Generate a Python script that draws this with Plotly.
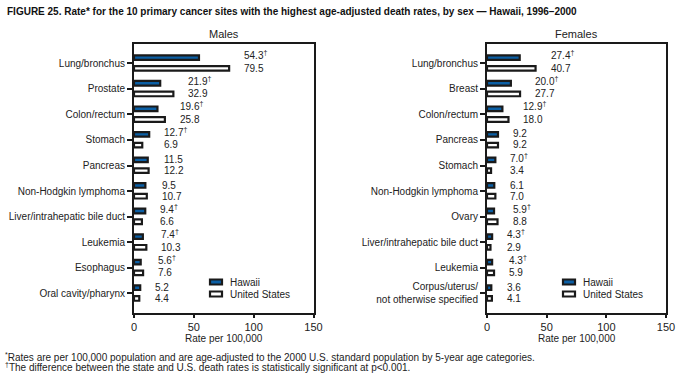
import plotly.graph_objects as go

male_sites = ["Lung/bronchus", "Prostate", "Colon/rectum", "Stomach", "Pancreas",
              "Non-Hodgkin lymphoma", "Liver/intrahepatic bile duct", "Leukemia",
              "Esophagus", "Oral cavity/pharynx"]
male_hawaii = [54.3, 21.9, 19.6, 12.7, 11.5, 9.5, 9.4, 7.4, 5.6, 5.2]
male_us = [79.5, 32.9, 25.8, 6.9, 12.2, 10.7, 6.6, 10.3, 7.6, 4.4]
male_sig = [True, True, True, True, False, False, True, True, True, False]

female_sites = ["Lung/bronchus", "Breast", "Colon/rectum", "Pancreas", "Stomach",
                "Non-Hodgkin lymphoma", "Ovary", "Liver/intrahepatic bile duct",
                "Leukemia", "Corpus/uterus/<br>not otherwise specified"]
female_hawaii = [27.4, 20.0, 12.9, 9.2, 7.0, 6.1, 5.9, 4.3, 4.3, 3.6]
female_us = [40.7, 27.7, 18.0, 9.2, 3.4, 7.0, 8.8, 2.9, 5.9, 4.1]
female_sig = [True, True, True, False, True, False, True, True, True, False]

x_ticks = [0, 50, 100, 150]
series_names = ["Hawaii", "United States"]

BLUE = "#0b5fa5"
EDGE = "#1a1a1a"
TXT = "#222"
FONT = "Liberation Sans, Arial, sans-serif"
NARROW = "Liberation Sans Narrow, Arial Narrow, Liberation Sans, sans-serif"
W, H = 687, 381

fig = go.Figure()

panels = [
    ("x", "y", male_sites, male_hawaii, male_us, male_sig, 209, (134 + 313.5) / 2, "Males"),
    ("x2", "y2", female_sites, female_hawaii, female_us, female_sig, 562, (487 + 666) / 2, "Females"),
]

annotations = []
shapes = []
for xa, ya, sites, hw, us, sig, legx, cx, ttl in panels:
    fig.add_trace(go.Bar(
        y=sites, x=hw, orientation="h", name=series_names[0], xaxis=xa, yaxis=ya,
        width=0.18, offset=-0.31,
        marker=dict(color=BLUE, line=dict(color=EDGE, width=2.2)),
        hoverinfo="skip"))
    fig.add_trace(go.Bar(
        y=sites, x=us, orientation="h", name=series_names[1], xaxis=xa, yaxis=ya,
        width=0.18, offset=0.11,
        marker=dict(color="white", line=dict(color=EDGE, width=2.2)),
        hoverinfo="skip"))
    for s, h, u, g in zip(sites, hw, us, sig):
        m = max(h, u)
        htxt = f"{h:.1f}" + ("<sup>†</sup>" if g else "")
        annotations.append(dict(x=m, y=s, xref=xa, yref=ya, text=htxt,
                                showarrow=False, xanchor="left", yanchor="middle",
                                xshift=13, yshift=8 if g else 6,
                                font=dict(size=10, color=TXT, family=FONT)))
        annotations.append(dict(x=m, y=s, xref=xa, yref=ya, text=f"{u:.1f}",
                                showarrow=False, xanchor="left", yanchor="middle",
                                xshift=13, yshift=-5,
                                font=dict(size=10, color=TXT, family=FONT)))
    # legend (manual)
    for i, (nm, col) in enumerate(zip(series_names, [BLUE, "white"])):
        yc = 282 + 12 * i
        shapes.append(dict(type="rect", xref="paper", yref="paper",
                           x0=(legx + 1) / W, x1=(legx + 13) / W,
                           y0=1 - (yc + 2.5) / H, y1=1 - (yc - 2.5) / H,
                           fillcolor=col, line=dict(color=EDGE, width=2.2)))
        annotations.append(dict(x=(legx + 19) / W, y=1 - yc / H, xref="paper", yref="paper",
                                xanchor="left", yanchor="middle", showarrow=False, text=nm,
                                font=dict(size=10, color=TXT, family=FONT)))
    annotations.append(dict(x=cx / W, y=1 - 34 / H, xref="paper", yref="paper",
                            xanchor="center", yanchor="middle", showarrow=False, text=ttl,
                            font=dict(size=11, color=TXT, family=FONT)))
    annotations.append(dict(x=cx / W, y=1 - 338 / H, xref="paper", yref="paper",
                            xanchor="center", yanchor="middle", showarrow=False,
                            text="Rate per 100,000",
                            font=dict(size=10, color=TXT, family=FONT)))

ydom = [1 - 313 / H, 1 - 44 / H]
common_x = dict(range=[0, 150], tickvals=x_ticks, showline=True, linecolor=EDGE,
                linewidth=2, mirror=True, ticks="outside", ticklen=3, tickwidth=2,
                tickcolor=EDGE, showgrid=False, zeroline=False, automargin=False,
                tickfont=dict(size=11, color=TXT, family=FONT))
common_y = dict(type="category", range=[9.77, -0.755], showline=True,
                linecolor=EDGE, linewidth=2, mirror=True, ticks="outside",
                ticklen=5, tickwidth=2, tickcolor=EDGE, showgrid=False, automargin=False,
                tickfont=dict(size=10, color=TXT, family=FONT), domain=ydom)

fig.update_layout(
    width=W, height=H, margin=dict(l=0, r=0, t=0, b=0, autoexpand=False),
    paper_bgcolor="white", plot_bgcolor="white", barmode="overlay",
    font=dict(family=FONT, color=TXT, size=10),
    xaxis=dict(domain=[134 / W, 313.5 / W], anchor="y", **common_x),
    yaxis=dict(anchor="x", categoryarray=male_sites, **common_y),
    xaxis2=dict(domain=[487 / W, 666 / W], anchor="y2", **common_x),
    yaxis2=dict(anchor="x2", categoryarray=female_sites, **common_y),
    showlegend=False,
)

annotations += [
    dict(x=5 / W, y=1 - 12 / H, xref="paper", yref="paper", xanchor="left",
         yanchor="middle", showarrow=False,
         text="<b>FIGURE 25. Rate* for the 10 primary cancer sites with the highest age-adjusted death rates, by sex — Hawaii, 1996–2000</b>",
         font=dict(size=10, color="#111", family=NARROW)),
    dict(x=3 / W, y=1 - 357 / H, xref="paper", yref="paper", xanchor="left",
         yanchor="middle", showarrow=False,
         text="<sup>*</sup>Rates are per 100,000 population and are age-adjusted to the 2000 U.S. standard population by 5-year age categories.",
         font=dict(size=10, color=TXT, family=FONT)),
    dict(x=3 / W, y=1 - 367 / H, xref="paper", yref="paper", xanchor="left",
         yanchor="middle", showarrow=False,
         text="<sup>†</sup>The difference between the state and U.S. death rates is statistically significant at p<0.001.",
         font=dict(size=10, color=TXT, family=FONT)),
]
fig.update_layout(annotations=annotations, shapes=shapes)

fig.write_html("out.html", config={"displayModeBar": False},
               post_script="document.body.style.margin='0';")
